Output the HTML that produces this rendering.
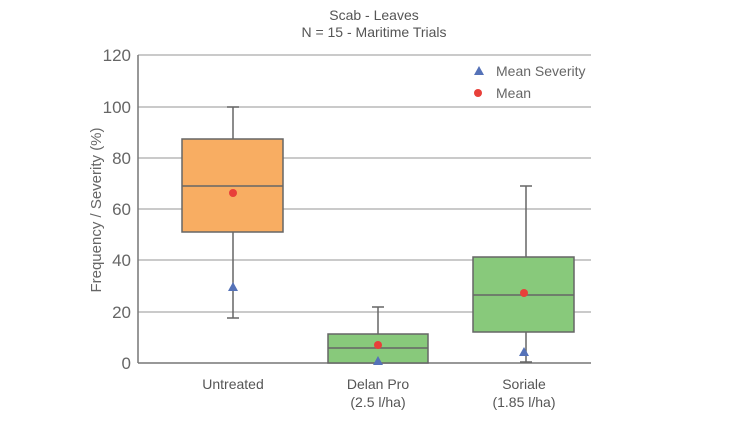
<!DOCTYPE html>
<html><head><style>body{margin:0;background:#fff}svg{display:block}</style></head><body>
<svg width="750" height="422" xmlns="http://www.w3.org/2000/svg" font-family="Liberation Sans, sans-serif">
<rect width="750" height="422" fill="#fff"/>
<g fill="#555" font-size="14" text-anchor="middle">
<text x="374" y="20">Scab - Leaves</text>
<text x="374" y="37">N = 15 - Maritime Trials</text>
</g>
<g stroke="#aaa" stroke-width="1.3">
<line x1="138" y1="55" x2="591" y2="55"/><line x1="138" y1="107" x2="591" y2="107"/>
<line x1="138" y1="158" x2="591" y2="158"/><line x1="138" y1="209" x2="591" y2="209"/>
<line x1="138" y1="260" x2="591" y2="260"/><line x1="138" y1="312" x2="591" y2="312"/>
</g>
<g stroke="#777" stroke-width="1.5"><line x1="138" y1="55" x2="138" y2="363"/><line x1="138" y1="363" x2="591" y2="363"/></g>
<g fill="#666" font-size="17" text-anchor="end">
<text x="131" y="61">120</text><text x="131" y="113">100</text><text x="131" y="164">80</text>
<text x="131" y="215">60</text><text x="131" y="266">40</text><text x="131" y="318">20</text><text x="131" y="369">0</text>
</g>
<text transform="translate(101,210) rotate(-90)" fill="#666" font-size="15" text-anchor="middle">Frequency / Severity (%)</text>
<g stroke="#666" stroke-width="1.5">
<line x1="233" y1="107" x2="233" y2="318"/><line x1="227" y1="107" x2="239" y2="107"/><line x1="227" y1="318" x2="239" y2="318"/>
<rect x="182" y="139" width="101" height="93" fill="#f8ad62"/><line x1="182" y1="186" x2="283" y2="186"/>
<line x1="378" y1="307" x2="378" y2="363"/><line x1="372" y1="307" x2="384" y2="307"/>
<rect x="328" y="334" width="100" height="29" fill="#88c97b"/><line x1="328" y1="348" x2="428" y2="348"/>
<line x1="526" y1="186" x2="526" y2="362"/><line x1="520" y1="186" x2="532" y2="186"/><line x1="520" y1="362" x2="532" y2="362"/>
<rect x="473" y="257" width="101" height="75" fill="#88c97b"/><line x1="473" y1="295" x2="574" y2="295"/>
</g>
<g fill="#e8403a"><circle cx="233" cy="193" r="4"/><circle cx="378" cy="345" r="4"/><circle cx="524" cy="293" r="4"/><circle cx="478" cy="93" r="4"/></g>
<g fill="#5572b8">
<path d="M233 282 l-5 9 h10z"/><path d="M378 356 l-5 9 h10z"/><path d="M524 347 l-5 9 h10z"/><path d="M479 66 l-5 9 h10z"/>
</g>
<g fill="#666" font-size="14"><text x="496" y="76">Mean Severity</text><text x="496" y="98">Mean</text></g>
<g fill="#555" font-size="14" text-anchor="middle">
<text x="233" y="389">Untreated</text>
<text x="378" y="389">Delan Pro</text><text x="378" y="407">(2.5 l/ha)</text>
<text x="524" y="389">Soriale</text><text x="524" y="407">(1.85 l/ha)</text>
</g>
</svg>
</body></html>
